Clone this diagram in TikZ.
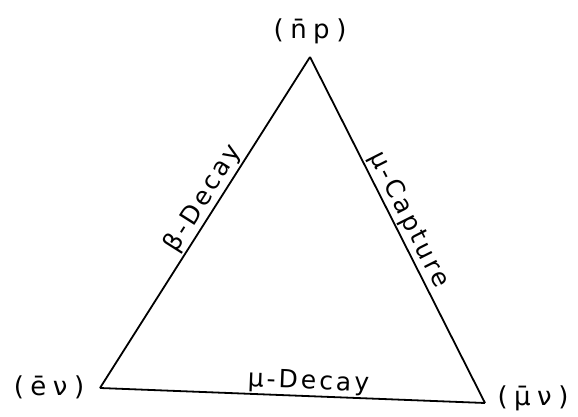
\documentclass[tikz,border=0pt]{standalone}
\usepackage{fontspec}
\setmainfont{DejaVu Sans}
\newfontfamily\handfont[LetterSpace=12]{DejaVu Sans}
\newfontfamily\cornerfont[LetterSpace=25]{DejaVu Sans}
\usetikzlibrary{positioning}
\tikzset{
  edge-line/.style={draw=black,line width=1.8pt},
  vertex-label/.style={font=\cornerfont\fontsize{26}{30}\selectfont,inner sep=1pt},
  edge-label/.style={font=\handfont\fontsize{25}{28}\selectfont,inner sep=1.5pt},
}
\begin{document}
\begin{tikzpicture}[x=1pt,y=1pt]
  \useasboundingbox (0,0) rectangle (578,417);
  % corners of the triangle
  \coordinate (np) at (310,360);
  \coordinate (ev) at (100,29);
  \coordinate (mv) at (485,14);
  \node[vertex-label] (np-lab) at (310,386) {(n̄p)};
  \node[vertex-label] (ev-lab) at (49,30)   {(ēν)};
  \node[vertex-label] (mv-lab) at (533,19)  {(μ̄ν)};
  \draw[edge-line] (ev) -- node[sloped,above,edge-label,pos=0.55]{β-Decay}   (np);
  \draw[edge-line] (np) -- node[sloped,above,edge-label,pos=0.49]{μ-Capture} (mv);
  \draw[edge-line] (ev) -- node[sloped,above,edge-label,pos=0.54,inner sep=1pt]{μ-Decay} (mv);
\end{tikzpicture}
\end{document}
